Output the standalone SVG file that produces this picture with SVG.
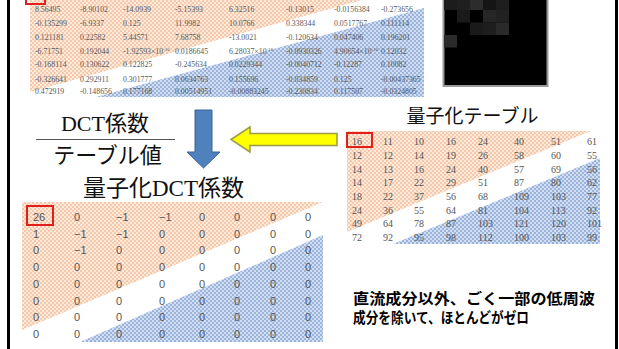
<svg xmlns="http://www.w3.org/2000/svg" width="619" height="349" viewBox="0 0 619 349">
<defs>
<pattern id="po" width="4" height="4" patternUnits="userSpaceOnUse"><rect width="4" height="4" fill="#f6c9ab"/><path d="M0 0h2v2H0zM2 2h2v2H2z" fill="#fdeadd"/></pattern>
<pattern id="pb" width="4" height="4" patternUnits="userSpaceOnUse"><rect width="4" height="4" fill="#9bb4dd"/><path d="M0 0h2v2H0zM2 2h2v2H2z" fill="#d3def1"/></pattern>
</defs>
<style>
.t8{font-family:"Liberation Serif",serif;font-size:7.8px;fill:#595959}
.sup{font-size:5px}
.tq{font-family:"Liberation Serif",serif;font-size:10px;fill:#555}
.tb{font-family:"Liberation Sans",sans-serif;font-size:11px;fill:#555}
.big{font-family:"Liberation Serif","Noto Sans CJK JP",serif;font-size:22px;fill:#111}
.jp{font-family:"Noto Sans CJK JP",sans-serif;fill:#111}
.note{font-family:"Noto Sans CJK JP",sans-serif;font-size:15px;font-weight:bold;fill:#000}
.red{fill:none;stroke:#e0201b;stroke-width:2}
</style>
<g id="frame" stroke="#000" stroke-width="3">
<line x1="8.5" y1="0" x2="8.5" y2="349"/>
<line x1="616.5" y1="0" x2="616.5" y2="349"/>
</g>
<g id="dct-table">
<polygon points="30,0 362,0 30,92" fill="url(#po)"/>
<polygon points="96,97 424,8 424,97" fill="url(#pb)"/>
<rect class="red" x="26" y="-10" width="19" height="14"/>
<g class="t8">
<text x="35" y="11.5">8.56495</text><text x="80" y="11.5">-8.90102</text><text x="123" y="11.5">-14.0939</text><text x="175" y="11.5">-5.15393</text><text x="229" y="11.5">6.32516</text><text x="286" y="11.5">-0.13015</text><text x="334" y="11.5">-0.0156384</text><text x="381" y="11.5">-0.273656</text>
<text x="35" y="25.7">-0.135299</text><text x="80" y="25.7">-6.9337</text><text x="123" y="25.7">0.125</text><text x="175" y="25.7">11.9982</text><text x="229" y="25.7">10.0766</text><text x="286" y="25.7">0.338344</text><text x="334" y="25.7">0.0517767</text><text x="381" y="25.7">0.111114</text>
<text x="35" y="39.7">0.121181</text><text x="80" y="39.7">0.22582</text><text x="123" y="39.7">5.44571</text><text x="175" y="39.7">7.68758</text><text x="229" y="39.7">-13.0021</text><text x="286" y="39.7">-0.120634</text><text x="334" y="39.7">0.047406</text><text x="381" y="39.7">0.196201</text>
<text x="35" y="53.7">-6.71751</text><text x="80" y="53.7">0.192044</text><text x="123" y="53.7">-1.92593×10<tspan class="sup" dy="-3.2">-16</tspan></text><text x="175" y="53.7">0.0186645</text><text x="229" y="53.7">6.28037×10<tspan class="sup" dy="-3.2">-16</tspan></text><text x="286" y="53.7">-0.0930326</text><text x="334" y="53.7">4.90654×10<tspan class="sup" dy="-3.2">-16</tspan></text><text x="381" y="53.7">0.12032</text>
<text x="35" y="67.3">-0.168114</text><text x="80" y="67.3">0.130622</text><text x="123" y="67.3">0.122825</text><text x="175" y="67.3">-0.245634</text><text x="229" y="67.3">0.0229344</text><text x="286" y="67.3">-0.0040712</text><text x="334" y="67.3">-0.12287</text><text x="381" y="67.3">0.10082</text>
<text x="35" y="81.7">-0.326641</text><text x="80" y="81.7">0.292911</text><text x="123" y="81.7">0.301777</text><text x="175" y="81.7">0.0634763</text><text x="229" y="81.7">0.155696</text><text x="286" y="81.7">-0.034859</text><text x="334" y="81.7">0.125</text><text x="381" y="81.7">-0.00437365</text>
<text x="35" y="93.7">0.472919</text><text x="80" y="93.7">-0.148656</text><text x="123" y="93.7">0.177168</text><text x="175" y="93.7">0.00514951</text><text x="229" y="93.7">-0.00883245</text><text x="286" y="93.7">-0.230834</text><text x="334" y="93.7">0.117507</text><text x="381" y="93.7">-0.0324805</text>
</g>
</g>
<g id="dct-image">
<rect x="443.5" y="-20" width="104" height="106" fill="#000" stroke="#9a9a9a" stroke-width="2"/>
<rect x="444" y="-2.5" width="13" height="12.5" fill="#1c1c1c"/>
<rect x="457" y="-2.5" width="13" height="12.5" fill="#1f1f1f"/>
<rect x="470" y="-2.5" width="13" height="12.5" fill="#2c2c2c"/>
<rect x="483" y="-2.5" width="13" height="12.5" fill="#151515"/>
<rect x="496" y="-2.5" width="13" height="12.5" fill="#1e1e1e"/>
<rect x="457" y="10" width="13" height="12.5" fill="#1a1a1a"/>
<rect x="483" y="10" width="13" height="12.5" fill="#262626"/>
<rect x="496" y="10" width="13" height="12.5" fill="#222"/>
<rect x="470" y="22.5" width="13" height="12.5" fill="#1a1a1a"/>
<rect x="483" y="22.5" width="13" height="12.5" fill="#1e1e1e"/>
<rect x="496" y="22.5" width="13" height="12.5" fill="#2a2a2a"/>
<rect x="444" y="35" width="13" height="12.5" fill="#2a2a2a"/>
</g>
<g id="fraction">
<text class="big" x="105" y="131" text-anchor="middle">DCT<tspan font-family="Noto Sans CJK JP">係数</tspan></text>
<line x1="36" y1="139.5" x2="175" y2="139.5" stroke="#595959" stroke-width="1.2"/>
<text class="jp" x="107.5" y="163" font-size="22" text-anchor="middle">テーブル値</text>
</g>
<g id="connectors">
<polygon points="195,110 212,110 212,152 220,152 203.5,168 187,152 195,152" fill="#4f81bd" stroke="#3b6397" stroke-width="1"/>
<polygon points="231,139.5 250,127 250,133.5 337,133.5 337,145.5 250,145.5 250,152" fill="#ffff00" stroke="#9c9c46" stroke-width="1.5"/>
</g>
<g id="quant-table">
<text class="jp" x="472.5" y="123" font-size="19" text-anchor="middle">量子化テーブル</text>
<polygon points="347,131 591,131 347,232" fill="url(#po)"/>
<polygon points="393,244 600,158 600,244" fill="url(#pb)"/>
<g class="tq">
<text y="145.2"><tspan x="352">16</tspan><tspan x="383">11</tspan><tspan x="414">10</tspan><tspan x="446">16</tspan><tspan x="478">24</tspan><tspan x="514">40</tspan><tspan x="551">51</tspan><tspan x="587">61</tspan></text>
<text y="158.9"><tspan x="352">12</tspan><tspan x="383">12</tspan><tspan x="414">14</tspan><tspan x="446">19</tspan><tspan x="478">26</tspan><tspan x="514">58</tspan><tspan x="551">60</tspan><tspan x="587">55</tspan></text>
<text y="172.6"><tspan x="352">14</tspan><tspan x="383">13</tspan><tspan x="414">16</tspan><tspan x="446">24</tspan><tspan x="478">40</tspan><tspan x="514">57</tspan><tspan x="551">69</tspan><tspan x="587">56</tspan></text>
<text y="186.3"><tspan x="352">14</tspan><tspan x="383">17</tspan><tspan x="414">22</tspan><tspan x="446">29</tspan><tspan x="478">51</tspan><tspan x="514">87</tspan><tspan x="551">80</tspan><tspan x="587">62</tspan></text>
<text y="200"><tspan x="352">18</tspan><tspan x="383">22</tspan><tspan x="414">37</tspan><tspan x="446">56</tspan><tspan x="478">68</tspan><tspan x="514">109</tspan><tspan x="551">103</tspan><tspan x="587">77</tspan></text>
<text y="213.7"><tspan x="352">24</tspan><tspan x="383">36</tspan><tspan x="414">55</tspan><tspan x="446">64</tspan><tspan x="478">81</tspan><tspan x="514">104</tspan><tspan x="551">113</tspan><tspan x="587">92</tspan></text>
<text y="227.4"><tspan x="352">49</tspan><tspan x="383">64</tspan><tspan x="414">78</tspan><tspan x="446">87</tspan><tspan x="478">103</tspan><tspan x="514">121</tspan><tspan x="551">120</tspan><tspan x="587">101</tspan></text>
<text y="241.1"><tspan x="352">72</tspan><tspan x="383">92</tspan><tspan x="414">95</tspan><tspan x="446">98</tspan><tspan x="478">112</tspan><tspan x="514">100</tspan><tspan x="551">103</tspan><tspan x="587">99</tspan></text>
</g>
<rect class="red" x="347" y="133" width="25" height="14"/>
</g>
<g id="quantized-table">
<text class="jp" x="163.5" y="196" font-size="23" text-anchor="middle">量子化<tspan font-family="Liberation Serif">DCT</tspan>係数</text>
<polygon points="22,202 323,202 22,330" fill="url(#po)"/>
<polygon points="80,342 323,235 323,342" fill="url(#pb)"/>
<g class="tb">
<text y="221"><tspan x="33">26</tspan><tspan x="74">0</tspan><tspan x="116">−1</tspan><tspan x="159">−1</tspan><tspan x="199">0</tspan><tspan x="234">0</tspan><tspan x="270">0</tspan><tspan x="305">0</tspan></text>
<text y="237.7"><tspan x="33">1</tspan><tspan x="74">−1</tspan><tspan x="116">−1</tspan><tspan x="159">0</tspan><tspan x="199">0</tspan><tspan x="234">0</tspan><tspan x="270">0</tspan><tspan x="305">0</tspan></text>
<text y="254.4"><tspan x="33">0</tspan><tspan x="74">−1</tspan><tspan x="116">0</tspan><tspan x="159">0</tspan><tspan x="199">0</tspan><tspan x="234">0</tspan><tspan x="270">0</tspan><tspan x="305">0</tspan></text>
<text y="271.1"><tspan x="33">0</tspan><tspan x="74">0</tspan><tspan x="116">0</tspan><tspan x="159">0</tspan><tspan x="199">0</tspan><tspan x="234">0</tspan><tspan x="270">0</tspan><tspan x="305">0</tspan></text>
<text y="287.8"><tspan x="33">0</tspan><tspan x="74">0</tspan><tspan x="116">0</tspan><tspan x="159">0</tspan><tspan x="199">0</tspan><tspan x="234">0</tspan><tspan x="270">0</tspan><tspan x="305">0</tspan></text>
<text y="304.5"><tspan x="33">0</tspan><tspan x="74">0</tspan><tspan x="116">0</tspan><tspan x="159">0</tspan><tspan x="199">0</tspan><tspan x="234">0</tspan><tspan x="270">0</tspan><tspan x="305">0</tspan></text>
<text y="321.2"><tspan x="33">0</tspan><tspan x="74">0</tspan><tspan x="116">0</tspan><tspan x="159">0</tspan><tspan x="199">0</tspan><tspan x="234">0</tspan><tspan x="270">0</tspan><tspan x="305">0</tspan></text>
<text y="338"><tspan x="33">0</tspan><tspan x="74">0</tspan><tspan x="116">0</tspan><tspan x="159">0</tspan><tspan x="199">0</tspan><tspan x="234">0</tspan><tspan x="270">0</tspan><tspan x="305">0</tspan></text>
</g>
<rect class="red" x="27" y="206" width="26" height="19"/>
</g>
<g id="note">
<text class="note"><tspan x="353" y="304" textLength="242" lengthAdjust="spacingAndGlyphs">直流成分以外、ごく一部の低周波</tspan><tspan x="353" y="322.5" textLength="176" lengthAdjust="spacingAndGlyphs">成分を除いて、ほとんどがゼロ</tspan></text>
</g>
</svg>
